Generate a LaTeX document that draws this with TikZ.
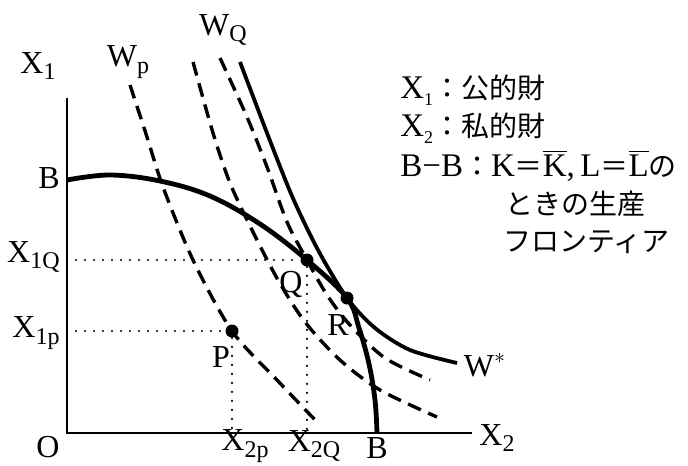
\documentclass[tikz,border=0pt]{standalone}
\usepackage{fontspec}
\setmainfont{Liberation Serif}
\newfontfamily\jpfont{Noto Sans CJK JP}
\usetikzlibrary{positioning}
\newcommand{\lowsub}[1]{\raisebox{-0.45ex}{\fontsize{12}{12}\selectfont #1}}
\newcommand{\tinysub}[1]{\raisebox{-0.5ex}{\fontsize{9}{9}\selectfont #1}}
\newcommand{\ovlbar}[1]{$\overline{\hbox{#1}}$}
\newcommand{\jp}[1]{{\jpfont\fontsize{14}{17}\selectfont #1}}

\begin{document}
\begin{tikzpicture}[
  x=0.5pt, y=-0.5pt,
  font=\fontsize{16}{19}\selectfont,
  axis/.style={line width=1.1pt},
  frontier/.style={line width=2.4pt, line join=round},
  wstar/.style={line width=1.9pt},
  wdash/.style={line width=1.7pt, dash pattern=on 7pt off 4pt},
  guide/.style={line width=1.2pt, line cap=round, dash pattern=on 0pt off 4.5pt},
  ptdot/.style={circle, fill, inner sep=0pt, minimum size=6.5pt},
  lbl/.style={inner sep=1pt},
  legend/.style={anchor=west, inner sep=0pt, font=\fontsize{16.5}{19}\selectfont}
]
\useasboundingbox (0,0) rectangle (688,465);

% axes
\coordinate (O) at (67,433);
\coordinate (ytop) at (67,98);
\coordinate (xend) at (472,433);
\draw[axis] (ytop) -- (O) -- (xend);

% production frontier B-B
\draw[frontier] plot[smooth, tension=0.6] coordinates {(67,180) (110,175) (160,181) (210,196) (260,224) (307,260) (347,298) (359,328) (369,364) (375,400) (377,433)};

% welfare curves
\draw[wstar] plot[smooth] coordinates {(240,62) (267,133) (292,196) (318,250) (347,298) (375,328) (410,350) (457,363)};
\draw[wdash] plot[smooth] coordinates {(220,58) (247,117) (267,167) (287,222) (307,260) (327,295) (350,325) (385,358) (430,380)};
\draw[wdash] plot[smooth] coordinates {(193,62) (213,133) (230,183) (252,230) (278,280) (305,322) (340,360) (380,390) (437,417)};
\draw[wdash] plot[smooth] coordinates {(130,85) (147,137) (163,187) (193,260) (232,331) (277,380) (318,423)};

% points
\node[ptdot] (P) at (232,331) {};
\node[ptdot] (Q) at (307,260) {};
\node[ptdot] (R) at (347,298) {};

% guides
\coordinate (x1p) at (67,331);
\coordinate (x1q) at (67,260);
\coordinate (x2p) at (232,433);
\coordinate (x2q) at (307,433);
\draw[guide] (x1p) -- (P);
\draw[guide] (P) -- (x2p);
\draw[guide] (x1q) -- (Q);
\draw[guide] (Q) -- (x2q);

% axis labels
\node[lbl] (lx1) at (38,66) {X\lowsub{1}};
\node[lbl] (lo) at (48,447) {O};
\node[lbl] (lx2) at (497,438) {X\lowsub{2}};
\node[lbl, anchor=east] (lbtop) at (62,178) {B};
\node[lbl, anchor=east] (lx1q) at (62,257) {X\lowsub{1Q}};
\node[lbl, anchor=east] (lx1p) at (62,333) {X\lowsub{1p}};
\node[lbl] (lx2p) at (245,446) {X\lowsub{2p}};
\node[lbl] (lx2q) at (314,446) {X\lowsub{2Q}};
\node[lbl] (lbbot) at (377,448) {B};

% curve labels
\node[lbl] (lwp) at (128,62) {W\lowsub{p}};
\node[lbl] (lwq) at (223,30) {W\lowsub{Q}};
\node[lbl] (lws) at (485,365) {W$^{*}$};
\node[lbl] (lp) at (221,357) {P};
\node[lbl] (lq) at (291,284) {Q};
\node[lbl] (lr) at (338,325) {R};

% legend
\node[legend] (leg1) at (400,90) {X\tinysub{1}\jp{：公的財}};
\node[legend] (leg2) at (400,128) {X\tinysub{2}\jp{：私的財}};
\node[legend] (leg3) at (400,166) {B−B\jp{：}K\jp{＝}\ovlbar{K},\,L\jp{＝}\ovlbar{L}\jp{の}};
\node[legend] (leg4) at (505,204) {\jp{ときの生産}};
\node[legend] (leg5) at (503,242) {\jp{フロンティア}};
\end{tikzpicture}
\end{document}
